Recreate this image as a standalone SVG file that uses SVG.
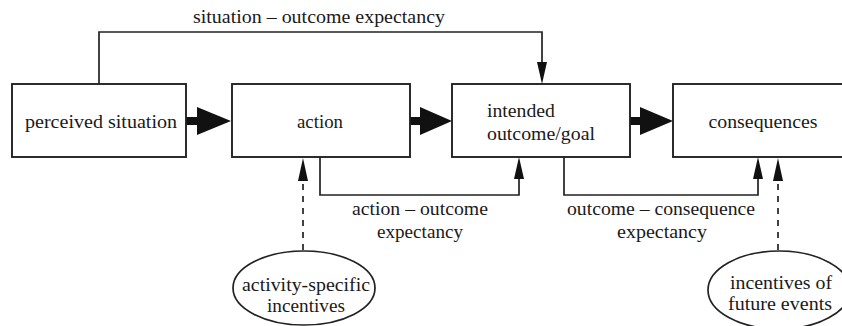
<svg xmlns="http://www.w3.org/2000/svg" width="842" height="326" viewBox="0 0 842 326">
<style>
.box{fill:#fff;stroke:#222;stroke-width:1.9}
.ell{fill:#fff;stroke:#222;stroke-width:1.7}
.ln{fill:none;stroke:#222;stroke-width:1.7}
.dash{fill:none;stroke:#222;stroke-width:1.7;stroke-dasharray:6 6}
.big{fill:#111;stroke:none}
text{font-family:"Liberation Serif","DejaVu Serif","Times New Roman",serif;font-size:19px;fill:#1a1a1a}
.c{text-anchor:middle}
</style>
<rect width="842" height="326" fill="#fff"/>
<g id="connectors">
<path class="ln" d="M99,84 V32 H542 V64"/>
<path class="big" d="M537,62 L542,84 L547,62 Z"/>
<path class="ln" d="M320,157 V195 H519 V177"/>
<path class="big" d="M514,179 L519,157 L524,179 Z"/>
<path class="ln" d="M564,157 V195 H758 V177"/>
<path class="big" d="M753,179 L758,157 L763,179 Z"/>
<path class="dash" d="M303,250 V175"/>
<path class="big" d="M298,181 L303,158 L308,181 Z"/>
<path class="dash" d="M778,250 V175"/>
<path class="big" d="M773,181 L778,158 L783,181 Z"/>
<rect class="big" x="186" y="117" width="12" height="8"/>
<path class="big" d="M197,107 L231,121 L197,135 Z"/>
<rect class="big" x="410" y="117" width="12" height="8"/>
<path class="big" d="M420,107 L452,121 L420,135 Z"/>
<rect class="big" x="630" y="117" width="12" height="8"/>
<path class="big" d="M640,107 L673,121 L640,135 Z"/>
<text class="c" x="319" y="23" textLength="252" lengthAdjust="spacingAndGlyphs">situation – outcome expectancy</text>
<text class="c" x="420" y="215" textLength="136" lengthAdjust="spacingAndGlyphs">action – outcome</text>
<text class="c" x="420" y="238" textLength="86" lengthAdjust="spacingAndGlyphs">expectancy</text>
<text class="c" x="661" y="215" textLength="188" lengthAdjust="spacingAndGlyphs">outcome – consequence</text>
<text class="c" x="662" y="238" textLength="90" lengthAdjust="spacingAndGlyphs">expectancy</text>
</g>
<g id="perceived-situation">
<rect class="box" x="12" y="84" width="174" height="73"/>
<text x="25" y="128" textLength="152" lengthAdjust="spacingAndGlyphs">perceived situation</text>
</g>
<g id="action">
<rect class="box" x="232" y="84" width="178" height="73"/>
<text class="c" x="320" y="128" textLength="46" lengthAdjust="spacingAndGlyphs">action</text>
</g>
<g id="intended-outcome">
<rect class="box" x="452" y="84" width="178" height="73"/>
<text x="487" y="117" textLength="68" lengthAdjust="spacingAndGlyphs">intended</text>
<text x="487" y="140" textLength="108" lengthAdjust="spacingAndGlyphs">outcome/goal</text>
</g>
<g id="consequences">
<rect class="box" x="673" y="84" width="180" height="73"/>
<text class="c" x="763" y="128" textLength="109" lengthAdjust="spacingAndGlyphs">consequences</text>
</g>
<g id="activity-specific-incentives">
<ellipse class="ell" cx="304" cy="288" rx="71" ry="37"/>
<text class="c" x="306" y="291" textLength="128" lengthAdjust="spacingAndGlyphs">activity-specific</text>
<text class="c" x="306" y="312" textLength="78" lengthAdjust="spacingAndGlyphs">incentives</text>
</g>
<g id="incentives-future-events">
<ellipse class="ell" cx="779" cy="290" rx="71" ry="39"/>
<text class="c" x="781" y="289" textLength="102" lengthAdjust="spacingAndGlyphs">incentives of</text>
<text class="c" x="780" y="310" textLength="104" lengthAdjust="spacingAndGlyphs">future events</text>
</g>
</svg>
